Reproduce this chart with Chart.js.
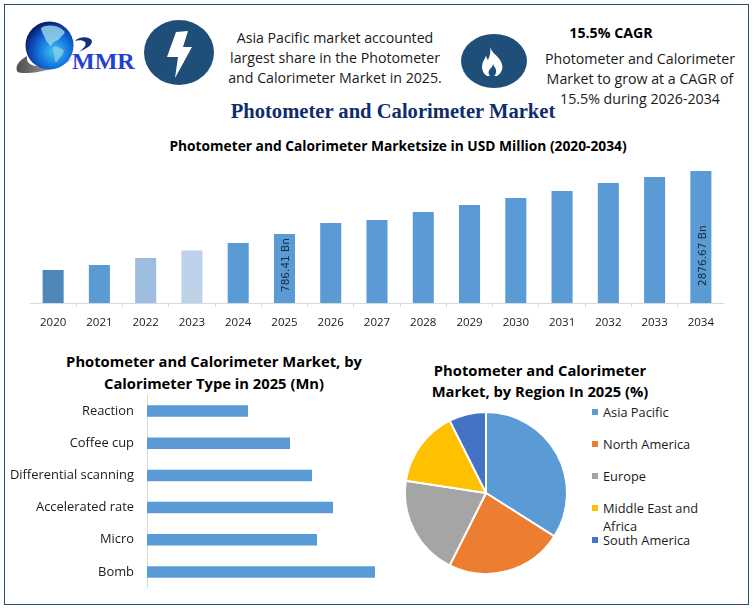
<!DOCTYPE html>
<html lang="en">
<head>
  <meta charset="utf-8">
  <title>Photometer and Calorimeter Market</title>
  <script src="https://cdn.jsdelivr.net/npm/chart.js"></script>
  <style>
    body { margin: 0; background: #fff; font-family: "Open Sans", sans-serif; color: #1a1a1a; }
    #page { position: relative; width: 754px; height: 609px; overflow: hidden; }
    #frame { position: absolute; left: 4px; top: 4px; width: 743px; height: 599px; border: 1.5px solid #1f4e79; }
    .txt { position: absolute; text-align: center; white-space: nowrap; transform: translateX(-50%); }
    .bold { font-weight: 700; color: #000; }
    canvas { position: absolute; }
    #logo { position: absolute; left: 0; top: 0; }
    #legend { position: absolute; left: 592px; top: 0; font-size: 12.8px; line-height: 18px; }
    #legend div { position: absolute; left: 11px; white-space: nowrap; }
    #legend i { position: absolute; left: -11px; top: 6px; width: 6px; height: 6px; }
  </style>
</head>
<body>
<div id="page">
  <div id="frame"></div>

  <svg id="logo" width="754" height="120">
    <defs>
      <radialGradient id="globe" cx="0.6" cy="0.62" r="0.62">
        <stop offset="0" stop-color="#45c4f2"/>
        <stop offset="0.5" stop-color="#1478e0"/>
        <stop offset="0.85" stop-color="#0b3ca8"/>
        <stop offset="1" stop-color="#071f66"/>
      </radialGradient>
      <linearGradient id="swoosh" x1="0" x2="1">
        <stop offset="0" stop-color="#4d4d4d"/>
        <stop offset="0.6" stop-color="#9a9a9a"/>
        <stop offset="1" stop-color="#d5d5d5"/>
      </linearGradient>
    </defs>
    <path d="M17 71 C15 65 20 60 27 56 C26 63 31 67 42 66 C54 65 65 62 74 58 C64 66 46 72 28 73 C22 73 18 73 17 71Z" fill="url(#swoosh)"/>
    <circle cx="49.5" cy="45.5" r="24" fill="url(#globe)"/>
    <path d="M41 28 C47 24 58 25 64 31 C66 34 62 35 60 38 C58 41 54 41 52 44 C52 46 50 46 49 44 C46 42 45 37 43 34 C42 32 41 30 41 28Z" fill="#9fd8ea" opacity="0.8"/>
    <path d="M53 47 C57 46 62 48 64 51 C63 55 60 57 58 60 C57 62 55 63 55 61 C55 57 53 53 53 47Z" fill="#8fd0e6" opacity="0.75"/>
    <path d="M75 41 C79 36 90 36 92 41 C92 46 85 49 79 52 C84 48 87 45 85 42 C83 40 78 40 75 41Z" fill="#16307e"/>
    <text x="72" y="69" font-family="Liberation Serif" font-weight="700" font-size="24" fill="#1f3fd6">MMR</text>

    <ellipse cx="179" cy="52.5" rx="35" ry="32.5" fill="#1f4e79"/>
    <path d="M176 32 L188 31 L183 47 L192 47 L175 78 L178 57 L167 57Z" fill="#fff"/>

    <ellipse cx="494" cy="61" rx="33" ry="27" fill="#1f4e79"/>
    <path d="M490 47 C492 53 497 55 500 60 C504 66 503 72 497 76 L487 76 C482 73 481 67 483 62 C484 60 485 58 486 56 C487 58 487 59 488 60 C490 56 491 51 490 47Z" fill="#fff"/>
    <path d="M493 64 C494 67 497 69 496 72 C496 74 495 75 494 76 L490 76 C488 74 488 71 490 69 C491 68 493 66 493 64Z" fill="#1f4e79"/>
  </svg>

  <div class="txt" style="left:335px;top:28px;font-size:14.2px;line-height:20px">Asia Pacific market accounted<br>largest share in the Photometer<br>and Calorimeter Market in 2025.</div>
  <div class="txt bold" style="left:611px;top:24px;font-size:14.2px;line-height:18px">15.5% CAGR</div>
  <div class="txt" style="left:640px;top:49px;font-size:14.2px;line-height:20px">Photometer and Calorimeter<br>Market to grow at a CAGR of<br>15.5% during 2026-2034</div>
  <div class="txt" style="left:393px;top:99px;font-family:'Liberation Serif';font-weight:700;font-size:20.6px;line-height:24px;color:#0f2d6b">Photometer and Calorimeter Market</div>
  <div class="txt bold" style="left:398px;top:137px;font-size:13.75px;line-height:18px">Photometer and Calorimeter Marketsize in USD Million (2020-2034)</div>
  <div class="txt bold" style="left:214px;top:350px;font-size:14.75px;line-height:22px">Photometer and Calorimeter Market, by<br>Calorimeter Type in 2025 (Mn)</div>
  <div class="txt bold" style="left:540px;top:360px;font-size:14.75px;line-height:20.5px">Photometer and Calorimeter<br>Market, by Region In 2025 (%)</div>

  <canvas id="sizeChart" style="left:30px;top:165px"></canvas>
  <canvas id="typeChart" style="left:0;top:395px"></canvas>
  <canvas id="regionChart" style="left:401px;top:408px"></canvas>
  <div id="legend"></div>
</div>

<script>
  // bar heights, the source axis has no scale
  const years = ['2020','2021','2022','2023','2024','2025','2026','2027','2028','2029','2030','2031','2032','2033','2034'];
  const sizeValues = [33, 38, 45, 52.6, 60, 69, 80, 83, 91, 98, 105, 112, 120, 126, 132];
  const sizeColors = ['#4f87ba','#5b9bd5','#9dbde0','#bdd1e9','#5b9bd5','#5b9bd5','#5b9bd5','#5b9bd5','#5b9bd5','#5b9bd5','#5b9bd5','#5b9bd5','#5b9bd5','#5b9bd5','#5b9bd5'];
  const sizeLabels = { 5: '786.41 Bn', 14: '2876.67 Bn' };

  const types = ['Reaction','Coffee cup','Differential scanning','Accelerated rate','Micro','Bomb'];
  const typeValues = [101, 143, 165, 186, 170, 228];

  const regions = ['Asia Pacific','North America','Europe','Middle East and Africa','South America'];
  const regionValues = [34, 23.4, 20, 15.2, 7.4];
  const regionColors = ['#5b9bd5','#ed7d31','#a5a5a5','#ffc000','#4472c4'];

  Chart.defaults.animation = false;
  Chart.defaults.responsive = false;
  Chart.defaults.font.family = '"Open Sans", sans-serif';
  Chart.defaults.plugins.legend.display = false;
  Chart.defaults.plugins.tooltip.enabled = false;

  function setSize(id, w, h) {
    const c = document.getElementById(id);
    c.width = w;
    c.height = h;
    return c;
  }

  // rotated value labels inside the 2025 and 2034 bars
  const barText = {
    id: 'barText',
    afterDatasetsDraw(chart) {
      const ctx = chart.ctx;
      const bars = chart.getDatasetMeta(0).data;
      ctx.save();
      ctx.font = '10.5px "DejaVu Sans"';
      ctx.fillStyle = '#1a2a3a';
      ctx.textBaseline = 'middle';
      Object.keys(sizeLabels).forEach(i => {
        const lift = i == 5 ? 11 : 17;
        ctx.save();
        ctx.translate(bars[i].x + 2, bars[i].base - lift);
        ctx.rotate(-Math.PI / 2);
        ctx.fillText(sizeLabels[i], 0, 0);
        ctx.restore();
      });
      ctx.restore();
    }
  };

  new Chart(setSize('sizeChart', 694, 165), {
    type: 'bar',
    data: {
      labels: years,
      datasets: [{ data: sizeValues, backgroundColor: sizeColors, barPercentage: 0.455, categoryPercentage: 1 }]
    },
    options: {
      scales: {
        x: {
          afterFit: s => { s.height = 27; },
          grid: { offset: true, drawOnChartArea: false, tickLength: 4, color: '#d9d9d9' },
          border: { color: '#d9d9d9' },
          ticks: { color: '#1a1a1a', font: { size: 11.5 }, padding: 9, maxRotation: 0, autoSkip: false }
        },
        y: { display: false, min: 0, max: 138 }
      }
    },
    plugins: [barText]
  });

  new Chart(setSize('typeChart', 390, 193), {
    type: 'bar',
    data: {
      labels: types,
      datasets: [{ data: typeValues, backgroundColor: '#5b9bd5', barPercentage: 0.36, categoryPercentage: 1 }]
    },
    options: {
      indexAxis: 'y',
      scales: {
        x: { display: false, min: 0, max: 243 },
        y: {
          // tick padding would otherwise shrink the plot height
          afterFit: s => { s.width = 147; s.paddingTop = 0; s.paddingBottom = 0; },
          grid: { drawOnChartArea: false, drawTicks: false },
          border: { color: '#d9d9d9' },
          ticks: { color: '#1a1a1a', font: { size: 12.9 }, padding: 13, autoSkip: false }
        }
      }
    }
  });

  new Chart(setSize('regionChart', 170, 170), {
    type: 'pie',
    data: {
      labels: regions,
      datasets: [{ data: regionValues, backgroundColor: regionColors, borderColor: '#fff', borderWidth: 2, radius: 81 }]
    }
  });

  // legend sits in html so the long entry can wrap like the original
  const legendTops = [403, 435, 467, 499, 531];
  regions.forEach((name, i) => {
    const row = document.createElement('div');
    row.style.top = legendTops[i] + 'px';
    row.innerHTML = '<i style="background:' + regionColors[i] + '"></i>' + name.replace('and Africa', 'and<br>Africa');
    document.getElementById('legend').appendChild(row);
  });
</script>
</body>
</html>
